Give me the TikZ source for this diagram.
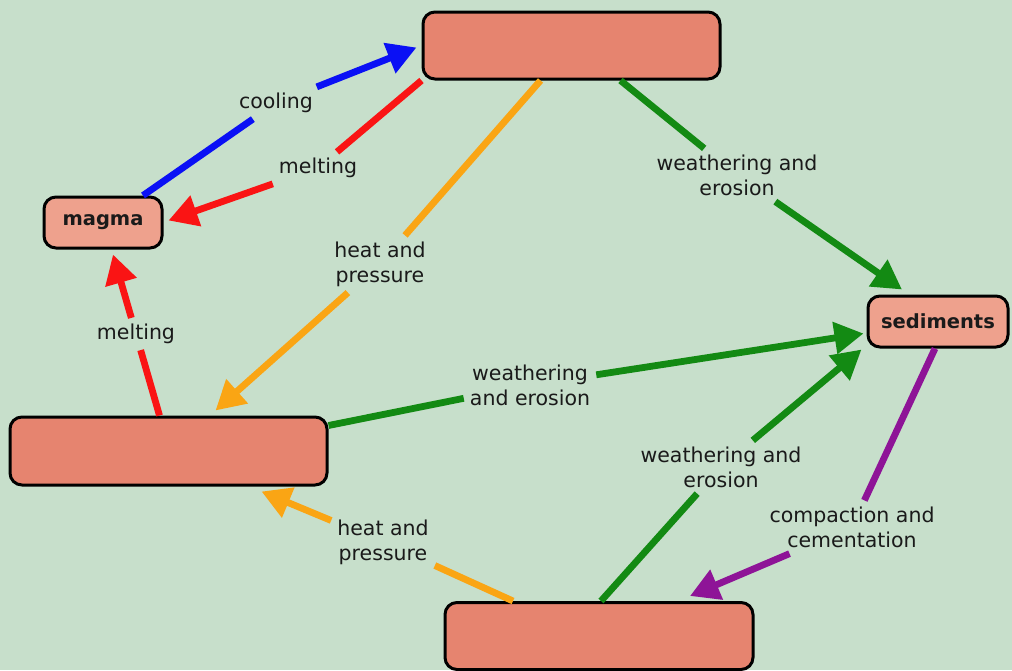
\documentclass[tikz,border=0pt]{standalone}
\usepackage{fontspec}
\setmainfont{DejaVu Sans}
\usepackage{xcolor}
\definecolor{cycleBg}{HTML}{C7DFCB}
\definecolor{rockFill}{HTML}{E6846F}
\definecolor{stageFill}{HTML}{EEA18D}
\definecolor{cycleBlue}{HTML}{0A10F5}
\definecolor{cycleRed}{HTML}{FA1414}
\definecolor{cycleOrange}{HTML}{FAA514}
\definecolor{cycleGreen}{HTML}{138A13}
\definecolor{cyclePurple}{HTML}{8E1497}
\definecolor{cycleText}{HTML}{1A1A1A}
\usepackage{tikz}
\usetikzlibrary{arrows.meta}

\begin{document}
\begin{tikzpicture}[
    x=1pt, y=-1pt,
    % boxes of the cycle
    rock/.style={
        draw=black, line width=3pt, rounded corners=12pt,
        fill=rockFill, inner sep=0pt
    },
    stage/.style={
        rock, fill=stageFill, text=cycleText,
        font=\fontsize{19.5}{23}\selectfont\bfseries
    },
    % linking phrases
    phrase/.style={
        align=center, inner sep=6pt, text=cycleText,
        font=\fontsize{20.5}{25}\selectfont
    },
    link/.style={line width=6.8pt, draw=#1},
    linkto/.style={link=#1, -{Triangle[length=29pt, width=31pt]}},
]

%% =================================================================
%% Background
%% =================================================================
\fill[cycleBg] (0,0) rectangle (1012,670);
\useasboundingbox (0,0) rectangle (1012,670);

%% =================================================================
%% Concepts
%% =================================================================
\node[rock, minimum width=297pt, minimum height=67pt] (igneous) at (571.5,45.5) {};
\node[stage, minimum width=118pt, minimum height=51pt] (magma) at (103,222.5) {magma};
\node[rock, minimum width=317pt, minimum height=68pt] (metamorphic) at (168.5,451) {};
\node[stage, minimum width=140pt, minimum height=51pt] (sediments) at (938,321.5) {sediments};
\node[rock, minimum width=308pt, minimum height=67pt] (sedimentary) at (599,636) {};

%% =================================================================
%% Linking phrases
%% =================================================================
\node[phrase] (cooling) at (276,103) {cooling};
\node[phrase] (meltTop) at (318,168) {melting};
\node[phrase] (heatTop) at (380,264) {heat and\\pressure};
\node[phrase] (weathTop) at (737,175) {weathering and\\erosion};
\node[phrase] (meltLeft) at (136,334) {melting};
\node[phrase] (weathLeft) at (530,385) {weathering\\and erosion};
\node[phrase] (weathBot) at (721,467) {weathering and\\erosion};
\node[phrase] (compact) at (852,527) {compaction and\\cementation};
\node[phrase] (heatBot) at (383,542) {heat and\\pressure};

%% =================================================================
%% Links  (concept -- phrase -> concept)
%% =================================================================
% magma -> igneous
\draw[link=cycleBlue] ([xshift=40pt]magma.north) -- (cooling);
\draw[linkto=cycleBlue] (cooling) -- ([xshift=-5pt, yshift=-2pt]igneous.west);

% igneous -> magma
\draw[link=cycleRed] (igneous.south west) -- (meltTop);
\draw[linkto=cycleRed] (meltTop) -- ([xshift=5pt, yshift=2pt]magma.east);

% igneous -> metamorphic
\draw[link=cycleOrange] ([xshift=-31pt]igneous.south) -- (heatTop);
\draw[linkto=cycleOrange] (heatTop) -- ([xshift=47pt, yshift=5pt]metamorphic.north);

% igneous -> sediments
\draw[link=cycleGreen] ([xshift=49pt]igneous.south) -- (weathTop);
\draw[linkto=cycleGreen] (weathTop) -- ([xshift=-36pt, yshift=5pt]sediments.north);

% metamorphic -> magma
\draw[link=cycleRed] ([xshift=-9pt]metamorphic.north) -- (meltLeft);
\draw[linkto=cycleRed] (meltLeft) -- ([xshift=10pt, yshift=-5pt]magma.south);

% metamorphic -> sediments
\draw[link=cycleGreen] ([yshift=-10pt]metamorphic.north east) -- (weathLeft);
\draw[linkto=cycleGreen] (weathLeft) -- ([xshift=-3pt, yshift=-12pt]sediments.west);

% sedimentary -> sediments
\draw[link=cycleGreen] ([xshift=2pt]sedimentary.north) -- (weathBot);
\draw[linkto=cycleGreen] (weathBot) -- ([xshift=-5pt, yshift=-1pt]sediments.south west);

% sediments -> sedimentary
\draw[link=cyclePurple] ([xshift=-3pt]sediments.south) -- (compact);
\draw[linkto=cyclePurple] (compact) -- ([xshift=91pt, yshift=5pt]sedimentary.north);

% sedimentary -> metamorphic
\draw[link=cycleOrange] ([xshift=-86pt]sedimentary.north) -- (heatBot);
\draw[linkto=cycleOrange] (heatBot) -- ([xshift=93pt, yshift=-5pt]metamorphic.south);

\end{tikzpicture}
\end{document}
